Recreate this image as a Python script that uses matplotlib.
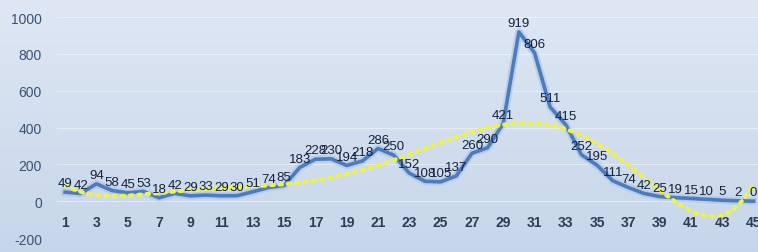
import numpy as np
import matplotlib
matplotlib.use("Agg")
from matplotlib import pyplot as plt

# values (day index -> count)
days = list(range(1, 46))
counts = [49, 42, 94, 58, 45, 53, 18, 42, 29, 33, 29, 30, 51, 74, 85,
          183, 228, 230, 194, 218, 286, 250, 152, 108, 105, 137, 260, 290, 421, 919,
          806, 511, 415, 252, 195, 111, 74, 42, 25, 19, 15, 10, 5, 2, 0]
yticks = [-200, 0, 200, 400, 600, 800, 1000]
xticks = list(range(1, 46, 2))

plt.rcParams['font.family'] = ['Liberation Sans Narrow', 'Liberation Sans', 'DejaVu Sans']

fig = plt.figure(figsize=(7.58, 2.53), dpi=100)

# soft blue gradient background
bg = fig.add_axes([0, 0, 1, 1])
grad = np.linspace(0, 1, 256).reshape(-1, 1)
cmap = matplotlib.colors.LinearSegmentedColormap.from_list("bg", ["#dfe7f4", "#c6d6e9"])
bg.imshow(grad, aspect="auto", cmap=cmap, extent=[0, 1, 0, 1], origin="upper")
bg.axis("off")

ax = fig.add_axes([0.0755, 0.0553, 0.929, 0.8735])
ax.patch.set_alpha(0)
ax.set_xlim(0.5, 45.5)
ax.set_ylim(-200, 1000)

for y in yticks:
    ax.axhline(y, color="white", lw=0.8, alpha=0.45, zorder=1)

ax.plot(days, counts, color="#a9c3e6", lw=5.5, alpha=0.6, zorder=2, solid_joinstyle="round")
ax.plot(days, counts, color="#4d7cbc", lw=2.6, zorder=3, solid_joinstyle="round")

# polynomial trendline (order 6), like the spreadsheet one
coef = np.polyfit(days, counts, 6)
xs = np.linspace(1, 45, 300)
ax.plot(xs, np.polyval(coef, xs), color="#eef24a", lw=3, ls=(0, (0.6, 1.4)),
        dash_capstyle="round", zorder=4)

for d, c in zip(days, counts):
    ax.annotate(str(c), (d, c), xytext=(0, 2), textcoords="offset points",
                ha="center", va="bottom", fontsize=9.5, color="#15213d", zorder=5)

for s in ax.spines.values():
    s.set_visible(False)
ax.spines['bottom'].set_position(('data', 0))
ax.set_xticks(xticks)
ax.set_xticklabels([str(t) for t in xticks], fontweight="bold")
ax.set_yticks(yticks)
ax.set_yticklabels([str(t) for t in yticks])
ax.tick_params(axis="x", length=0, pad=10, labelsize=10, labelcolor="#2f3d52")
ax.tick_params(axis="y", length=0, pad=11, labelsize=10, labelcolor="#3a5270")

fig.savefig("out.png", dpi=100)
